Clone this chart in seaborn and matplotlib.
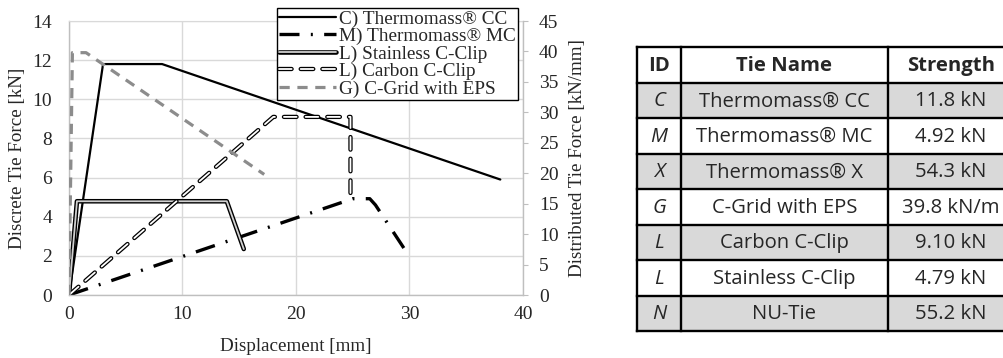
import matplotlib
matplotlib.use("Agg")
import matplotlib.pyplot as plt
import matplotlib.patheffects as pe
from matplotlib.patches import Rectangle
from matplotlib.ticker import MultipleLocator
import seaborn as sns

# ---------------- data ----------------
# displacement [mm] / force [kN]
cc_x = [0, 3.0, 8.2, 38.0]
cc_y = [0, 11.8, 11.8, 5.9]
mc_x = [0, 25.0, 26.5, 27.0, 29.5]
mc_y = [0, 4.92, 4.92, 4.6, 2.4]
ss_x = [0, 0.7, 13.9, 15.4]
ss_y = [0, 4.79, 4.79, 2.35]
cb_x = [0, 18.0, 24.8, 24.8]
cb_y = [0, 9.10, 9.10, 5.0]
# distributed force [kN/mm]
cg_x = [0, 0.3, 1.5, 17.2]
cg_y = [0, 39.8, 39.8, 19.8]

legend_labels = ["C) Thermomass® CC", "M) Thermomass® MC", "L) Stainless C-Clip",
                 "L) Carbon C-Clip", "G) C-Grid with EPS"]

x_ticks = [0, 10, 20, 30, 40]
y_left_ticks = [0, 2, 4, 6, 8, 10, 12, 14]
y_right_ticks = [0, 5, 10, 15, 20, 25, 30, 35, 40, 45]

table_header = ["ID", "Tie Name", "Strength"]
table_ids = ["C", "M", "X", "G", "L", "L", "N"]
table_names = ["Thermomass® CC", "Thermomass® MC", "Thermomass® X", "C-Grid with EPS",
               "Carbon C-Clip", "Stainless C-Clip", "NU-Tie"]
table_strengths = ["11.8 kN", "4.92 kN", "54.3 kN", "39.8 kN/m", "9.10 kN", "4.79 kN", "55.2 kN"]

# ---------------- style ----------------
sns.set_style("white")
plt.rcParams["font.family"] = ["Liberation Serif", "DejaVu Serif"]

W, H = 1004, 358
fig = plt.figure(figsize=(W / 100, H / 100), dpi=100)

L, R, T, B = 69, 523, 21, 295
ax = fig.add_axes([L / W, 1 - B / H, (R - L) / W, (B - T) / H])
ax2 = ax.twinx()

grid_c = "#d9d9d9"
spine_c = "#bfbfbf"

# C
sns.lineplot(x=cc_x, y=cc_y, ax=ax, sort=False, estimator=None, color="black", lw=1.6)
# M
sns.lineplot(x=mc_x, y=mc_y, ax=ax, sort=False, estimator=None, color="black", lw=2.4)
ax.lines[-1].set_dashes((6.0, 3.4, 0.6, 3.4))
# Stainless (double line)
sns.lineplot(x=ss_x, y=ss_y, ax=ax, sort=False, estimator=None, color="#d0d0d0", lw=1.3)
ax.lines[-1].set_path_effects([pe.Stroke(linewidth=3.3, foreground="black"), pe.Normal()])
# Carbon (outlined dashes)
sns.lineplot(x=cb_x, y=cb_y, ax=ax, sort=False, estimator=None, color="white", lw=1.3)
ax.lines[-1].set_dashes((7, 5))
ax.lines[-1].set_dash_capstyle("round")
ax.lines[-1].set_path_effects([pe.Stroke(linewidth=3.1, foreground="black"), pe.Normal()])
# C-Grid on right axis
sns.lineplot(x=cg_x, y=cg_y, ax=ax2, sort=False, estimator=None, color="#8c8c8c", lw=2.3)
ax2.lines[-1].set_dashes((3.2, 2.4))

handles = list(ax.lines[:4]) + [ax2.lines[-1]]

ax.set_xlim(0, 40)
ax.set_ylim(0, 14)
ax2.set_ylim(0, 45)
ax.set_xticks(x_ticks)
ax.set_yticks(y_left_ticks)
ax2.set_yticks(y_right_ticks)
ax.xaxis.set_minor_locator(MultipleLocator(2))

ax.grid(True, which="major", color=grid_c, lw=1.0)
ax.set_axisbelow(True)
ax2.grid(False)

for s in ["left", "bottom"]:
    ax.spines[s].set_color(spine_c)
    ax.spines[s].set_linewidth(1.0)
ax.spines["top"].set_color(grid_c)
ax.spines["right"].set_visible(False)
for s in ["left", "bottom", "top"]:
    ax2.spines[s].set_visible(False)
ax2.spines["right"].set_color(spine_c)
ax2.spines["right"].set_linewidth(1.0)

fs = 14
ax.tick_params(axis="y", length=0, pad=12, labelsize=fs)
ax.tick_params(axis="x", which="major", length=0, pad=8, labelsize=fs)
ax.tick_params(axis="x", which="minor", direction="in", length=3.5, width=0.8, color=spine_c)
ax2.tick_params(axis="y", direction="out", length=3.5, width=0.8, color=spine_c, pad=8, labelsize=fs)

lfs = 13.7
ax.set_xlabel("Displacement [mm]", fontsize=lfs)
ax.set_ylabel("Discrete Tie Force [kN]", fontsize=lfs)
ax2.set_ylabel("Distributed Tie Force [kN/mm]", fontsize=lfs)
ax.xaxis.set_label_coords(0.5, -0.158)
ax.yaxis.set_label_coords(-0.094, 0.5)
ax2.yaxis.set_label_coords(1.101, 0.5)

leg = fig.legend(handles, legend_labels, loc="upper right",
                 bbox_to_anchor=(518 / W, 1 - 8 / H), frameon=True, fancybox=False,
                 edgecolor="black", framealpha=1, borderpad=0.1, labelspacing=0.0,
                 handlelength=3.0, handletextpad=0.15, borderaxespad=0, fontsize=13.9)
leg.get_frame().set_linewidth(1.0)

# ---------------- table ----------------
tL, tR, tT, tB = 637, 1016, 47, 331
tax = fig.add_axes([tL / W, 1 - tB / H, (tR - tL) / W, (tB - tT) / H])
tw, th = tR - tL, tB - tT
tax.set_xlim(0, tw)
tax.set_ylim(th, 0)
tax.axis("off")
nrows = len(table_ids) + 1
rh = th / nrows
cols = [0, 44, 251, tw]
tfont = ["Open Sans", "DejaVu Sans"]
tfs = 14.6

for i in range(len(table_ids)):
    if i % 2 == 0:
        tax.add_patch(Rectangle((0, (i + 1) * rh), tw, rh, facecolor="#d9d9d9", edgecolor="none"))

lw_t = 1.7
for k in range(nrows + 1):
    tax.plot([0, tw], [k * rh, k * rh], color="black", lw=lw_t, solid_capstyle="projecting", clip_on=False)
for c in cols:
    tax.plot([c, c], [0, th], color="black", lw=lw_t, solid_capstyle="projecting", clip_on=False)

centers = [(cols[j] + cols[j + 1]) / 2 for j in range(3)]
centers[2] = 314
for j, txt in enumerate(table_header):
    tax.text(centers[j], 0.5 * rh + 1, txt, ha="center", va="center", fontsize=tfs,
             fontweight="bold", family=tfont)
for i in range(len(table_ids)):
    y = (i + 1.5) * rh + 1
    tax.text(centers[0], y, table_ids[i], ha="center", va="center", fontsize=tfs,
             style="italic", family=tfont)
    tax.text(centers[1], y, table_names[i], ha="center", va="center", fontsize=tfs, family=tfont)
    tax.text(centers[2], y, table_strengths[i], ha="center", va="center", fontsize=tfs, family=tfont)

fig.savefig("out.png", dpi=100)
